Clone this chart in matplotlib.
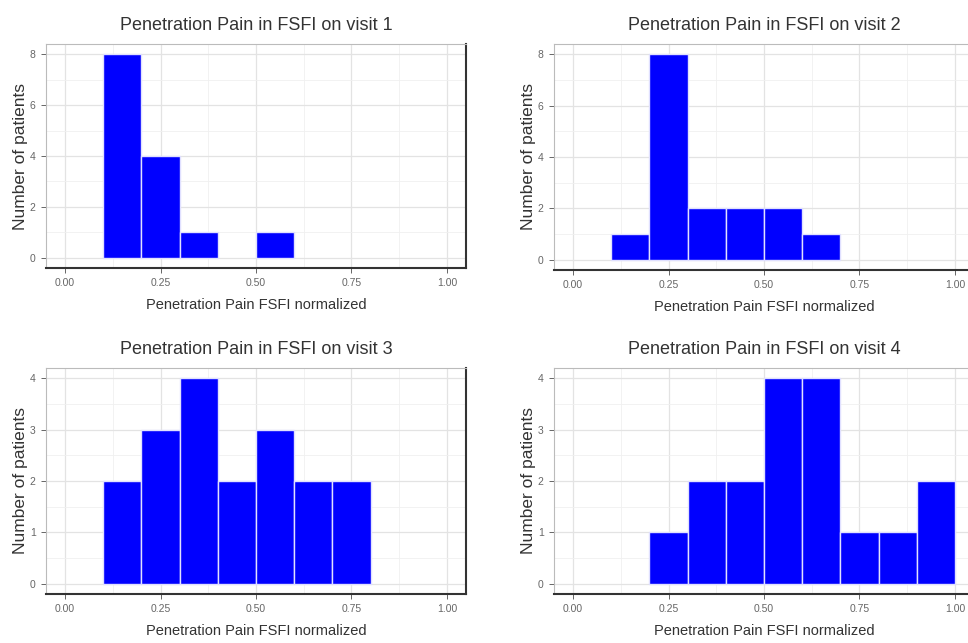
import matplotlib
matplotlib.use("Agg")
import matplotlib.pyplot as plt
from matplotlib.ticker import MultipleLocator

plt.rcParams['font.family'] = ['Liberation Sans', 'DejaVu Sans']

# Data
bin_left = [0.0, 0.1, 0.2, 0.3, 0.4, 0.5, 0.6, 0.7, 0.8, 0.9]
bin_width = 0.1
visit1 = [0, 8, 4, 1, 0, 1, 0, 0, 0, 0]
visit2 = [0, 1, 8, 2, 2, 2, 1, 0, 0, 0]
visit3 = [0, 2, 3, 4, 2, 3, 2, 2, 0, 0]
visit4 = [0, 0, 1, 2, 2, 4, 4, 1, 1, 2]
titles = ["Penetration Pain in FSFI on visit 1", "Penetration Pain in FSFI on visit 2",
          "Penetration Pain in FSFI on visit 3", "Penetration Pain in FSFI on visit 4"]
x_ticks = [0.0, 0.25, 0.5, 0.75, 1.0]
x_ticklabels = ["0.00", "0.25", "0.50", "0.75", "1.00"]
xlabel = "Penetration Pain FSFI normalized"
ylabel = "Number of patients"

series = [visit1, visit2, visit3, visit4]
ymax = [8, 8, 4, 4]
ymajor = [2, 2, 1, 1]

fig = plt.figure(figsize=(9.68, 6.43), dpi=100)
W, H = 968, 643
boxes = [(46, 44, 466, 268), (554, 44, 974, 270), (46, 368, 466, 594), (554, 368, 974, 594)]

for i, (vals, (l, t, r, b)) in enumerate(zip(series, boxes)):
    ax = fig.add_axes([l / W, (H - b) / H, (r - l) / W, (b - t) / H])
    xs = [x for x, v in zip(bin_left, vals) if v > 0]
    hs = [v for v in vals if v > 0]
    ax.bar(xs, hs, width=bin_width, align='edge', color='#0000FF',
           edgecolor='#E0E0FF', linewidth=1.0, zorder=3)
    ax.set_xlim(-0.05, 1.05)
    ym = ymax[i]
    ax.set_ylim(-0.05 * ym, 1.05 * ym)
    ax.set_xticks(x_ticks)
    ax.set_xticklabels(x_ticklabels)
    ax.xaxis.set_minor_locator(MultipleLocator(0.125))
    ax.yaxis.set_major_locator(MultipleLocator(ymajor[i]))
    ax.yaxis.set_minor_locator(MultipleLocator(ymajor[i] / 2))
    ax.grid(which='major', color='#E3E3E3', linewidth=0.9, zorder=0)
    ax.grid(which='minor', color='#F0F0F0', linewidth=0.6, zorder=0)
    ax.set_axisbelow(True)
    ax.tick_params(which='major', length=3.5, width=0.7, color='#666666',
                   labelsize=7.5, labelcolor='#666666', pad=4)
    ax.tick_params(which='minor', length=0)
    for s in ['top', 'left']:
        ax.spines[s].set_color('#BBBBBB')
        ax.spines[s].set_linewidth(0.8)
    for s in ['bottom', 'right']:
        ax.spines[s].set_color('#333333')
        ax.spines[s].set_linewidth(1.5)
    ax.set_title(titles[i], fontsize=13, color='#333333', pad=10)
    ax.set_xlabel(xlabel, fontsize=10.5, color='#333333', labelpad=7)
    ax.set_ylabel(ylabel, fontsize=12.5, color='#333333', labelpad=1)

fig.savefig("out.png", dpi=100)
